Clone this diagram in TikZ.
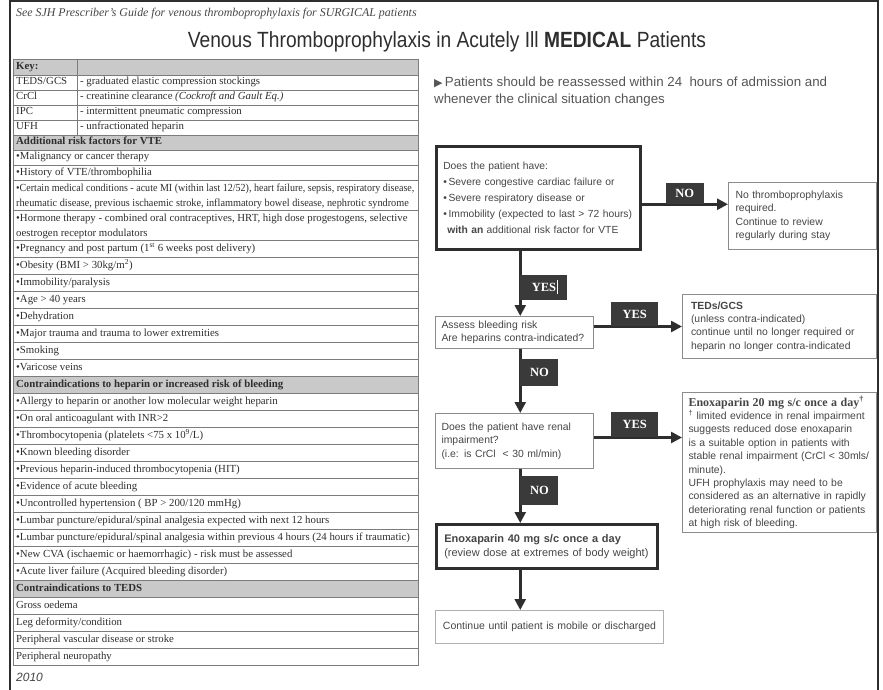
\documentclass[tikz,border=0pt]{standalone}
\usepackage{fontspec}
\usepackage{graphicx}
\setmainfont{Liberation Serif}
\setsansfont{Liberation Sans}
\newfontfamily\symbolfont{DejaVu Sans}
\usetikzlibrary{positioning,calc,arrows.meta}

\definecolor{ink}{HTML}{2E2E2E}
\definecolor{softink}{HTML}{454545}
\definecolor{headink}{HTML}{555555}
\definecolor{tabrule}{HTML}{7C7C7C}
\definecolor{tabshade}{HTML}{C9C9C9}
\definecolor{tagfill}{HTML}{3A3A3A}
\definecolor{thinline}{HTML}{8C8C8C}

\tikzset{
  tabletext/.style={anchor=west, inner sep=0pt, text=ink, font=\fontsize{10.8}{15}\selectfont},
  tablerow/.style={tabletext, text height=7pt, text depth=2pt},
  tablehead/.style={tablerow, font=\fontsize{10.8}{15}\selectfont\bfseries},
  flowbox/.style={draw=thinline, line width=1pt, anchor=north west, align=left, inner xsep=6pt, inner ysep=0pt, text=softink, font=\sffamily\fontsize{10.4}{13.4}\selectfont},
  mainbox/.style={flowbox, draw=ink, line width=2.5pt},
  answer/.style={fill=tagfill, text=white, inner sep=0pt, font=\fontsize{12.5}{12.5}\selectfont\bfseries},
  flowarrow/.style={draw=ink, line width=2.5pt, -{Triangle[length=11pt, width=11pt]}}
}

\begin{document}
\begin{tikzpicture}[x=1pt, y=-1pt]
\useasboundingbox (0,0) rectangle (883,690);

% Frame
\draw[ink, line width=2pt] (10,690) -- (10,1) -- (878,1) -- (878,690);

% Headings
\node[anchor=west, inner sep=0pt, text=softink] (seeguide) at (16,14) {\itshape\fontsize{11.9}{12}\selectfont See SJH Prescriber’s Guide for venous thromboprophylaxis for SURGICAL patients};
\node[inner sep=0pt, text=ink] (title) at (447,42) {\scalebox{0.872}[1]{\sffamily\fontsize{22}{22}\selectfont Venous Thromboprophylaxis in Acutely Ill \textbf{MEDICAL} Patients}};
\node[anchor=west, inner sep=0pt, align=left, text=headink, font=\sffamily\fontsize{13.3}{17}\selectfont] (reassess) at (434,91.5) {{\symbolfont\fontsize{11}{11}\selectfont ▶}\,Patients should be reassessed within 24~ hours of admission and\\whenever the clinical situation changes};
\node[anchor=west, inner sep=0pt, text=softink] (year) at (16,677) {\sffamily\itshape\fontsize{12}{12}\selectfont 2010};

% Key table: shading and rules
\foreach \top/\bot in {60/75, 135/150, 376/393, 580/597}
  \fill[tabshade] (13,\top) rectangle (418,\bot);
\foreach \yr in {75,90,...,180}
  \draw[tabrule, line width=0.8pt] (13,\yr) -- (418,\yr);
\draw[tabrule, line width=0.8pt] (13,210) -- (418,210);
\foreach \yr in {240,257,...,648}
  \draw[tabrule, line width=0.8pt] (13,\yr) -- (418,\yr);
\draw[tabrule, line width=1pt] (13,60) rectangle (418,665);
\draw[tabrule, line width=0.8pt] (77,60) -- (77,135);

% Key table: texts
\node[tablehead] (keyhead) at (16,67.5) {Key:};
\foreach \yc/\abbr/\gloss [count=\ka] in {82.5/{TEDS/GCS}/{- graduated elastic compression stockings}, 97.5/CrCl/{- creatinine clearance \textit{(Cockroft and Gault Eq.)}}, 112.5/IPC/{- intermittent pneumatic compression}, 127.5/UFH/{- unfractionated heparin}} {
  \node[tablerow] (abbr\ka) at (16,\yc) {\abbr};
  \node[tablerow] (gloss\ka) at (80,\yc) {\gloss};
}

\node[tablehead] (factorhead) at (16,142.5) {Additional risk factors for VTE};
\foreach \yc/\txt [count=\fa] in {157.5/{•Malignancy or cancer therapy}, 172.5/{•History of VTE/thrombophilia}, 248.5/{•Pregnancy and post partum (1\textsuperscript{st} 6 weeks post delivery)}, 265.5/{•Obesity (BMI > 30kg/m\textsuperscript{2})}, 282.5/{•Immobility/paralysis}, 299.5/{•Age > 40 years}, 316.5/{•Dehydration}, 333.5/{•Major trauma and trauma to lower extremities}, 350.5/{•Smoking}, 367.5/{•Varicose veins}}
  \node[tablerow] (factor\fa) at (16,\yc) {\txt};
\node[tabletext, align=left] (conditions) at (16,196) {\scalebox{0.93}[1]{•Certain medical conditions - acute MI (within last 12/52), heart failure, sepsis, respiratory disease,}\\\scalebox{0.95}[1]{rheumatic disease, previous ischaemic stroke, inflammatory bowel disease, nephrotic syndrome}};
\node[tabletext, align=left] (hormones) at (16,226) {•Hormone therapy - combined oral contraceptives, HRT, high dose progestogens, selective\\oestrogen receptor modulators};

\node[tablehead] (bleedhead) at (16,384.5) {Contraindications to heparin or increased risk of bleeding};
\foreach \yc/\txt [count=\ba] in {401.5/{•Allergy to heparin or another low molecular weight heparin}, 418.5/{•On oral anticoagulant with INR>2}, 435.5/{•Thrombocytopenia (platelets <75 x 10\textsuperscript{9}/L)}, 452.5/{•Known bleeding disorder}, 469.5/{•Previous heparin-induced thrombocytopenia (HIT)}, 486.5/{•Evidence of acute bleeding}, 503.5/{•Uncontrolled hypertension ( BP > 200/120 mmHg)}, 520.5/{•Lumbar puncture/epidural/spinal analgesia expected with next 12 hours}, 537.5/{•Lumbar puncture/epidural/spinal analgesia within previous 4 hours (24 hours if traumatic)}, 554.5/{•New CVA (ischaemic or haemorrhagic) - risk must be assessed}, 571.5/{•Acute liver failure (Acquired bleeding disorder)}}
  \node[tablerow] (bleedrow\ba) at (16,\yc) {\txt};

\node[tablehead] (tedshead) at (16,588.5) {Contraindications to TEDS};
\foreach \yc/\txt [count=\ta] in {605.5/{Gross oedema}, 622.5/{Leg deformity/condition}, 639.5/{Peripheral vascular disease or stroke}, 656.5/{Peripheral neuropathy}}
  \node[tablerow] (tedsrow\ta) at (16,\yc) {\txt};

% Flowchart boxes
\node[mainbox, inner xsep=7pt, text width=190pt, minimum height=103pt, font=\sffamily\fontsize{10.3}{16}\selectfont] (askrisk) at (435,145) {Does the patient have:\\•\,Severe congestive cardiac failure or\\•\,Severe respiratory disease or\\•\,Immobility (expected to last > 72 hours)\\\hspace*{4pt}\textbf{with an} additional risk factor for VTE};
\node[flowbox, inner xsep=7pt, text width=134pt, minimum height=67pt] (noprophy) at (728,182) {No thromboprophylaxis\\required.\\Continue to review\\regularly during stay};
\node[flowbox, text width=146pt, minimum height=32pt] (bleed) at (435,316) {Assess bleeding risk\\Are heparins contra-indicated?};
\node[flowbox, inner xsep=8.5pt, text width=177pt, minimum height=64pt] (teds) at (682,294) {\textbf{TEDs/GCS}\\(unless contra-indicated)\\continue until no longer required or\\heparin no longer contra-indicated};
\node[flowbox, text width=146pt, minimum height=55pt] (renal) at (435,413) {Does the patient have renal\\impairment?\\(i.e: is CrCl~ < 30 ml/min)};
\node[flowbox, text width=182pt, minimum height=140pt] (lowdose) at (682,392) {{\rmfamily\bfseries\fontsize{12}{13.4}\selectfont Enoxaparin 20 mg s/c once a day\textsuperscript{†}}\\\textsuperscript{†} limited evidence in renal impairment\\suggests reduced dose enoxaparin\\is a suitable option in patients with\\stable renal impairment (CrCl < 30mls/\\minute).\\UFH prophylaxis may need to be\\considered as an alternative in rapidly\\deteriorating renal function or patients\\at high risk of bleeding.};
\node[mainbox, inner xsep=8pt, text width=205pt, minimum height=44pt, font=\sffamily\fontsize{11}{14}\selectfont] (stddose) at (435,523) {\textbf{Enoxaparin 40 mg s/c once a day}\\(review dose at extremes of body weight)};
\node[flowbox, draw=thinline!70, align=center, text width=216pt, minimum height=33pt, font=\sffamily\fontsize{10.5}{13}\selectfont] (carryon) at (435,610) {Continue until patient is mobile or discharged};

% Arrows down the spine
\coordinate (spine) at ([xshift=-18pt]askrisk.south);
\coordinate (s1) at (askrisk.south -| spine);
\coordinate (s2) at (bleed.south -| spine);
\coordinate (s3) at (renal.south -| spine);
\coordinate (s4) at (stddose.south -| spine);
\draw[flowarrow] (s1) -- (bleed.north -| spine);
\draw[flowarrow] (s2) -- (renal.north -| spine);
\draw[flowarrow] (s3) -- (stddose.north -| spine);
\draw[flowarrow] (s4) -- (carryon.north -| spine);

% Arrows to the right
\coordinate (nostart) at ([yshift=-6.5pt]askrisk.east);
\coordinate (tedsstart) at ([yshift=6pt]bleed.east);
\coordinate (lowstart) at ([yshift=3.5pt]renal.east);
\draw[flowarrow] (nostart) -- (nostart -| noprophy.west);
\draw[flowarrow] (tedsstart) -- (tedsstart -| teds.west);
\draw[flowarrow] (lowstart) -- (lowstart -| lowdose.west);

% Answer tags
\node[answer, minimum width=38pt, minimum height=21pt, above right=0pt and 24pt of nostart] (no1) {NO};
\node[answer, minimum width=47pt, minimum height=25pt, below right=24pt and 0pt of s1] (yes1) {YES};
\draw[white, line width=0.7pt] ([xshift=13.5pt,yshift=7pt]yes1.center) -- ([xshift=13.5pt,yshift=-7pt]yes1.center);
\node[answer, minimum width=47pt, minimum height=24pt, above right=0pt and 17pt of tedsstart] (yes2) {YES};
\node[answer, minimum width=38pt, minimum height=27pt, below right=10pt and 0pt of s2] (no2) {NO};
\node[answer, minimum width=47pt, minimum height=25pt, above right=0pt and 17pt of lowstart] (yes3) {YES};
\node[answer, minimum width=38pt, minimum height=29pt, below right=7pt and 0pt of s3] (no3) {NO};

\end{tikzpicture}
\end{document}
